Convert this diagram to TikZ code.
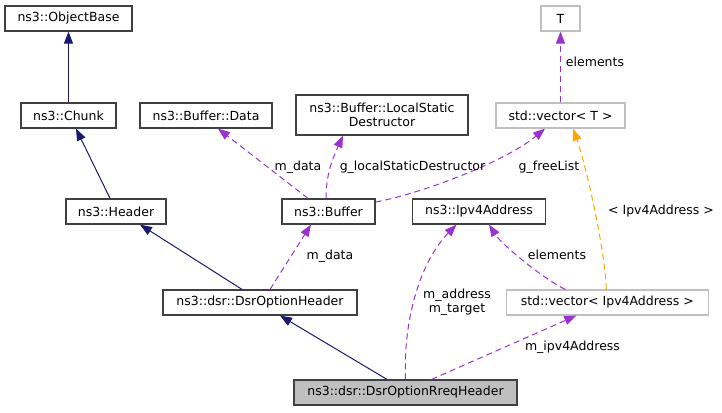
\documentclass[tikz,border=0pt]{standalone}
\usepackage{fontspec}
\setmainfont{DejaVu Sans}
\usetikzlibrary{arrows.meta}
\definecolor{inhblue}{HTML}{191970}
\definecolor{usepurple}{HTML}{9A32CD}
\definecolor{tmplorange}{HTML}{FFA500}
\definecolor{boxgrey}{HTML}{BFBFBF}
\definecolor{boxdark}{HTML}{404040}

\begin{document}
\begin{tikzpicture}[x=1pt, y=-1pt, font=\fontsize{12.5}{14.5}\selectfont,
        classbox/.style={draw=boxdark, line width=1.2pt, inner sep=0pt, minimum height=25pt, align=center},
        greybox/.style={classbox, draw=boxgrey},
        inherit/.style={-{Triangle[length=12pt,width=9pt]}, inhblue, line width=1pt},
        usage/.style={-{Triangle[length=12pt,width=9pt]}, usepurple, line width=1pt, dash pattern=on 6pt off 4pt},
        tmpl/.style={usage, tmplorange},
        lbl/.style={inner sep=0pt}]
        \useasboundingbox (0,0) rectangle (722,412);

        % classes
        \node[classbox, minimum width=127pt] (objbase) at (68.5, 18.5) {ns3::ObjectBase};
        \node[classbox, minimum width=95pt] (chunk) at (68.5, 115.5) {ns3::Chunk};
        \node[classbox, minimum width=100pt] (header) at (116, 211.5) {ns3::Header};
        \node[classbox, minimum width=132pt] (data) at (206, 115.5) {ns3::Buffer::Data};
        \node[classbox, minimum width=172pt, minimum height=40pt] (lsd) at (382, 115) {ns3::Buffer::LocalStatic\\Destructor};
        \node[classbox, minimum width=93pt] (buffer) at (328.5, 211.5) {ns3::Buffer};
        \node[classbox, minimum width=133pt] (ipv4) at (479, 211.5) {ns3::Ipv4Address};
        \node[greybox, minimum width=39pt] (t) at (560.5, 18.5) {T};
        \node[greybox, minimum width=129pt] (vect) at (560.5, 115.5) {std::vector< T >};
        \node[classbox, minimum width=194pt] (dsropt) at (260, 302.5) {ns3::dsr::DsrOptionHeader};
        \node[greybox, minimum width=202pt] (vecip) at (607.3, 302.5) {std::vector< Ipv4Address >};
        \node[classbox, fill=boxgrey, minimum width=223pt] (rreq) at (405.5, 392.5) {ns3::dsr::DsrOptionRreqHeader};

        % inheritance
        \draw[inherit] (chunk.north) -- (objbase.south);
        \draw[inherit] ([xshift=-6pt]header.north) -- ([xshift=7.5pt]chunk.south);
        \draw[inherit] ([xshift=-18pt]dsropt.north) -- ([xshift=24pt]header.south);
        \draw[inherit] ([xshift=-18.5pt]rreq.north) -- ([xshift=20pt]dsropt.south);

        % members
        \draw[usage] ([xshift=-20.5pt]buffer.north) -- ([xshift=12pt]data.south);
        \draw[usage] ([xshift=-2.5pt]buffer.north) .. controls (326, 175) and (332, 160) .. ([xshift=-39pt]lsd.south);
        \draw[usage] ([yshift=9.5pt]buffer.east) .. controls (420, 194) and (505, 162) .. ([xshift=-15.5pt]vect.south);
        \draw[usage] (vect.north) -- (t.south);
        \draw[tmpl] ([xshift=-1pt]vecip.north) .. controls (605, 250) and (586, 165) .. ([xshift=12.5pt]vect.south);
        \draw[usage] ([xshift=-42pt]vecip.north) .. controls (545, 280) and (502, 245) .. ([xshift=10pt]ipv4.south);
        \draw[usage] (rreq.north) .. controls (403, 320) and (420, 262) .. ([xshift=-22.5pt]ipv4.south);
        \draw[usage] ([xshift=26pt]rreq.north) -- ([xshift=-31pt]vecip.south);
        \draw[usage] ([xshift=10pt]dsropt.north) -- ([xshift=-17.5pt]buffer.south);

        % labels
        \node[lbl] (ldata) at (298, 167) {m\_data};
        \node[lbl] (llsd) at (412.5, 167) {g\_localStaticDestructor};
        \node[lbl] (lfree) at (549, 167) {g\_freeList};
        \node[lbl] (lelemt) at (595, 62) {elements};
        \node[lbl] (ltmpl) at (661, 211) {< Ipv4Address >};
        \node[lbl] (lelemip) at (557, 255) {elements};
        \node[lbl, align=center] (laddr) at (457, 302) {m\_address\\m\_target};
        \node[lbl] (lipv4) at (572.5, 347) {m\_ipv4Address};
        \node[lbl] (lbufdata) at (330, 256) {m\_data};

    \end{tikzpicture}
\end{document}
